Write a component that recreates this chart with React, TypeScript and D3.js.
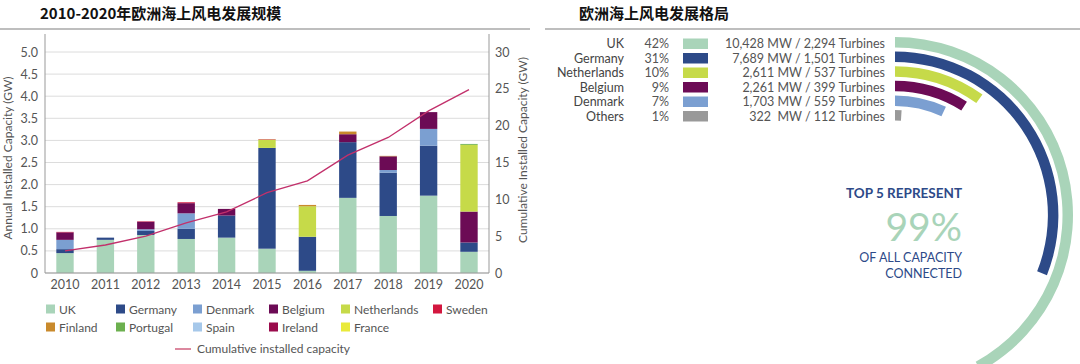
import React from "react";
import * as d3 from "d3";

const years = ["2010","2011","2012","2013","2014","2015","2016","2017","2018","2019","2020"];
const countries = ["UK","Germany","Denmark","Belgium","Netherlands","Sweden","Finland","Portugal","Spain","Ireland","France"];
const ukVals = [0.45,0.75,0.86,0.77,0.80,0.55,0.05,1.70,1.29,1.75,0.48];
const germanyVals = [0.09,0.05,0.09,0.23,0.50,2.28,0.77,1.26,0.98,1.13,0.21];
const denmarkVals = [0.21,0,0.04,0.35,0,0,0,0,0.06,0.38,0];
const belgiumVals = [0.17,0,0.17,0.23,0.15,0,0,0.18,0.31,0.38,0.70];
const netherlandsVals = [0,0,0,0,0,0.19,0.69,0,0,0,1.51];
const swedenVals = [0.01,0,0.01,0.02,0,0.01,0,0,0,0,0];
const finlandVals = [0,0,0,0,0,0,0.03,0.06,0.01,0,0];
const portugalVals = [0,0,0,0,0,0,0,0,0,0,0.02];
const spainVals = [0,0,0,0,0,0,0,0,0,0,0];
const irelandVals = [0,0,0,0,0,0,0,0,0,0,0];
const franceVals = [0,0,0,0,0,0,0,0,0,0,0];
const cumulative = [3.0,3.8,5.0,6.8,8.3,10.9,12.5,16.0,18.4,22.0,24.9];
const leftTicks = [0,0.5,1,1.5,2,2.5,3,3.5,4,4.5,5];
const rightTicks = [0,5,10,15,20,25,30];

const shareNames = ["UK","Germany","Netherlands","Belgium","Denmark","Others"];
const sharePct = [42,31,10,9,7,1];
const shareDetail = ["10,428 MW / 2,294 Turbines","7,689 MW / 1,501 Turbines","2,611 MW / 537 Turbines","2,261 MW / 399 Turbines","1,703 MW / 559 Turbines","322  MW / 112 Turbines"];

const colors: Record<string,string> = {
  UK: "#a9d4b9", Germany: "#2d4a88", Denmark: "#7b9fd1", Belgium: "#6c0b55",
  Netherlands: "#c6da49", Sweden: "#d3173f", Finland: "#c98a2c", Portugal: "#6cb04f",
  Spain: "#a6c8ea", Ireland: "#9a0b4c", France: "#e9ea3a", Others: "#999999",
};

const FONT = "Lato, 'Noto Sans', sans-serif";
const CJK = "'Noto Sans CJK SC', sans-serif";

export default function App() {
  const valsBy: Record<string, number[]> = {
    UK: ukVals, Germany: germanyVals, Denmark: denmarkVals, Belgium: belgiumVals,
    Netherlands: netherlandsVals, Sweden: swedenVals, Finland: finlandVals,
    Portugal: portugalVals, Spain: spainVals, Ireland: irelandVals, France: franceVals,
  };
  const table = years.map((y, i) => {
    const row: any = { year: y };
    countries.forEach((c) => (row[c] = valsBy[c][i]));
    return row;
  });
  const stack = d3.stack().keys(countries)(table as any);

  const x = d3.scaleBand().domain(years).range([45, 489]).paddingInner(0.57).paddingOuter(0.28);
  const y = d3.scaleLinear().domain([0, 5]).range([273, 52]);
  const y2 = d3.scaleLinear().domain([0, 30]).range([273, 52]);
  const line = d3.line<number>()
    .x((_, i) => (x(years[i]) as number) + x.bandwidth() / 2)
    .y((d) => y2(d));

  const cx = 895, cy = 215;
  const arcGen = d3.arc();
  const outerR = (i: number) => 178 - i * 14.6;

  const legendRow1 = [
    { k: "UK", x: 46 }, { k: "Germany", x: 116 }, { k: "Denmark", x: 193 },
    { k: "Belgium", x: 269 }, { k: "Netherlands", x: 341 }, { k: "Sweden", x: 433 },
  ];
  const legendRow2 = [
    { k: "Finland", x: 46 }, { k: "Portugal", x: 116 }, { k: "Spain", x: 193 },
    { k: "Ireland", x: 269 }, { k: "France", x: 341 },
  ];

  return (
    <svg width={1080} height={364} style={{ position: "absolute", left: 0, top: 0, background: "#fff" }}>
      {/* Titles */}
      <text x={40} y={19} fontFamily={CJK} fontWeight={700} fontSize={15} fill="#111">2010-2020年欧洲海上风电发展规模</text>
      <line x1={0} x2={530} y1={29} y2={29} stroke="#a8a8a8" strokeWidth={1.5} />
      <text x={579} y={19} fontFamily={CJK} fontWeight={700} fontSize={15} fill="#111">欧洲海上风电发展格局</text>
      <line x1={545} x2={1080} y1={29} y2={29} stroke="#a8a8a8" strokeWidth={1.5} />

      {/* Grid */}
      {leftTicks.map((t) => (
        <line key={"g" + t} x1={45} x2={489} y1={y(t)} y2={y(t)} stroke="#dcdcdc" strokeWidth={1} />
      ))}
      {/* Bars */}
      {stack.map((s) => (
        <g key={s.key} fill={colors[s.key]}>
          {s.map((d, i) =>
            d[1] - d[0] > 0 ? (
              <rect key={i} x={x(years[i])} width={x.bandwidth()} y={y(d[1])} height={y(d[0]) - y(d[1])} />
            ) : null
          )}
        </g>
      ))}
      {/* Axes */}
      <line x1={45} x2={45} y1={34} y2={273} stroke="#999" strokeWidth={1} />
      <line x1={489} x2={489} y1={34} y2={273} stroke="#999" strokeWidth={1} />
      <line x1={45} x2={489} y1={273} y2={273} stroke="#999" strokeWidth={1} />
      {leftTicks.map((t) => (
        <text key={"l" + t} x={38} y={y(t) + 4.5} textAnchor="end" fontFamily={FONT} fontSize={12.5} fill="#555">
          {t === 0 ? "0" : t.toFixed(1)}
        </text>
      ))}
      {rightTicks.map((t) => (
        <text key={"r" + t} x={495} y={y2(t) + 4.5} fontFamily={FONT} fontSize={12.5} fill="#555">{t}</text>
      ))}
      {years.map((yr) => (
        <text key={"x" + yr} x={(x(yr) as number) + x.bandwidth() / 2} y={289} textAnchor="middle" fontFamily={FONT} fontSize={12.5} fill="#555">{yr}</text>
      ))}
      <text transform="translate(12,158) rotate(-90)" textAnchor="middle" fontFamily={FONT} fontSize={12} fill="#555">Annual Installed Capacity (GW)</text>
      <text transform="translate(527,150) rotate(-90)" textAnchor="middle" fontFamily={FONT} fontSize={12} fill="#555">Cumulative Installed Capacity (GW)</text>

      {/* Cumulative line */}
      <path d={line(cumulative) as string} fill="none" stroke="#c2306b" strokeWidth={1.3} />

      {/* Legend */}
      {[...legendRow1.map((l) => ({ ...l, yy: 309 })), ...legendRow2.map((l) => ({ ...l, yy: 327 }))].map((l) => (
        <g key={"lg" + l.k}>
          <rect x={l.x} y={l.yy - 4.5} width={9} height={9} fill={colors[l.k]} />
          <text x={l.x + 13} y={l.yy + 4.5} fontFamily={FONT} fontSize={12} fill="#555">{l.k}</text>
        </g>
      ))}
      <line x1={175} x2={191} y1={349} y2={349} stroke="#d0607f" strokeWidth={1.5} />
      <text x={197} y={353} fontFamily={FONT} fontSize={12} fill="#555">Cumulative installed capacity</text>

      {/* Right panel table */}
      {shareNames.map((n, i) => {
        const ry = 43.5 + i * 14.5;
        const col = n === "Others" ? colors.Others : colors[n];
        return (
          <g key={"sh" + n}>
            <text x={624} y={ry + 4.5} textAnchor="end" fontFamily={FONT} fontSize={12.5} fill="#444">{n}</text>
            <text x={669} y={ry + 4.5} textAnchor="end" fontFamily={FONT} fontSize={12.5} fill="#555">{sharePct[i]}%</text>
            <rect x={683} y={ry - 5} width={25} height={10.5} fill={col} />
            <text x={885} y={ry + 4.5} textAnchor="end" fontFamily={FONT} fontSize={12.5} fill="#555" style={{ whiteSpace: "pre" }}>{shareDetail[i]}</text>
            <path
              transform={`translate(${cx},${cy})`}
              d={arcGen({ innerRadius: outerR(i) - 10.5, outerRadius: outerR(i), startAngle: 0, endAngle: (sharePct[i] / 100) * 2 * Math.PI }) as string}
              fill={col}
            />
          </g>
        );
      })}

      {/* Center text */}
      <text x={962} y={198} textAnchor="end" fontFamily={FONT} fontWeight={700} fontSize={13.5} fill="#2d4a88">TOP 5 REPRESENT</text>
      <text x={962} y={241} textAnchor="end" fontFamily={FONT} fontWeight={400} fontSize={39} fill="#a9d4b9">99%</text>
      <text x={962} y={262} textAnchor="end" fontFamily={FONT} fontSize={12.5} fill="#2d4a88">OF ALL CAPACITY</text>
      <text x={962} y={278} textAnchor="end" fontFamily={FONT} fontSize={12.5} fill="#2d4a88">CONNECTED</text>
    </svg>
  );
}
